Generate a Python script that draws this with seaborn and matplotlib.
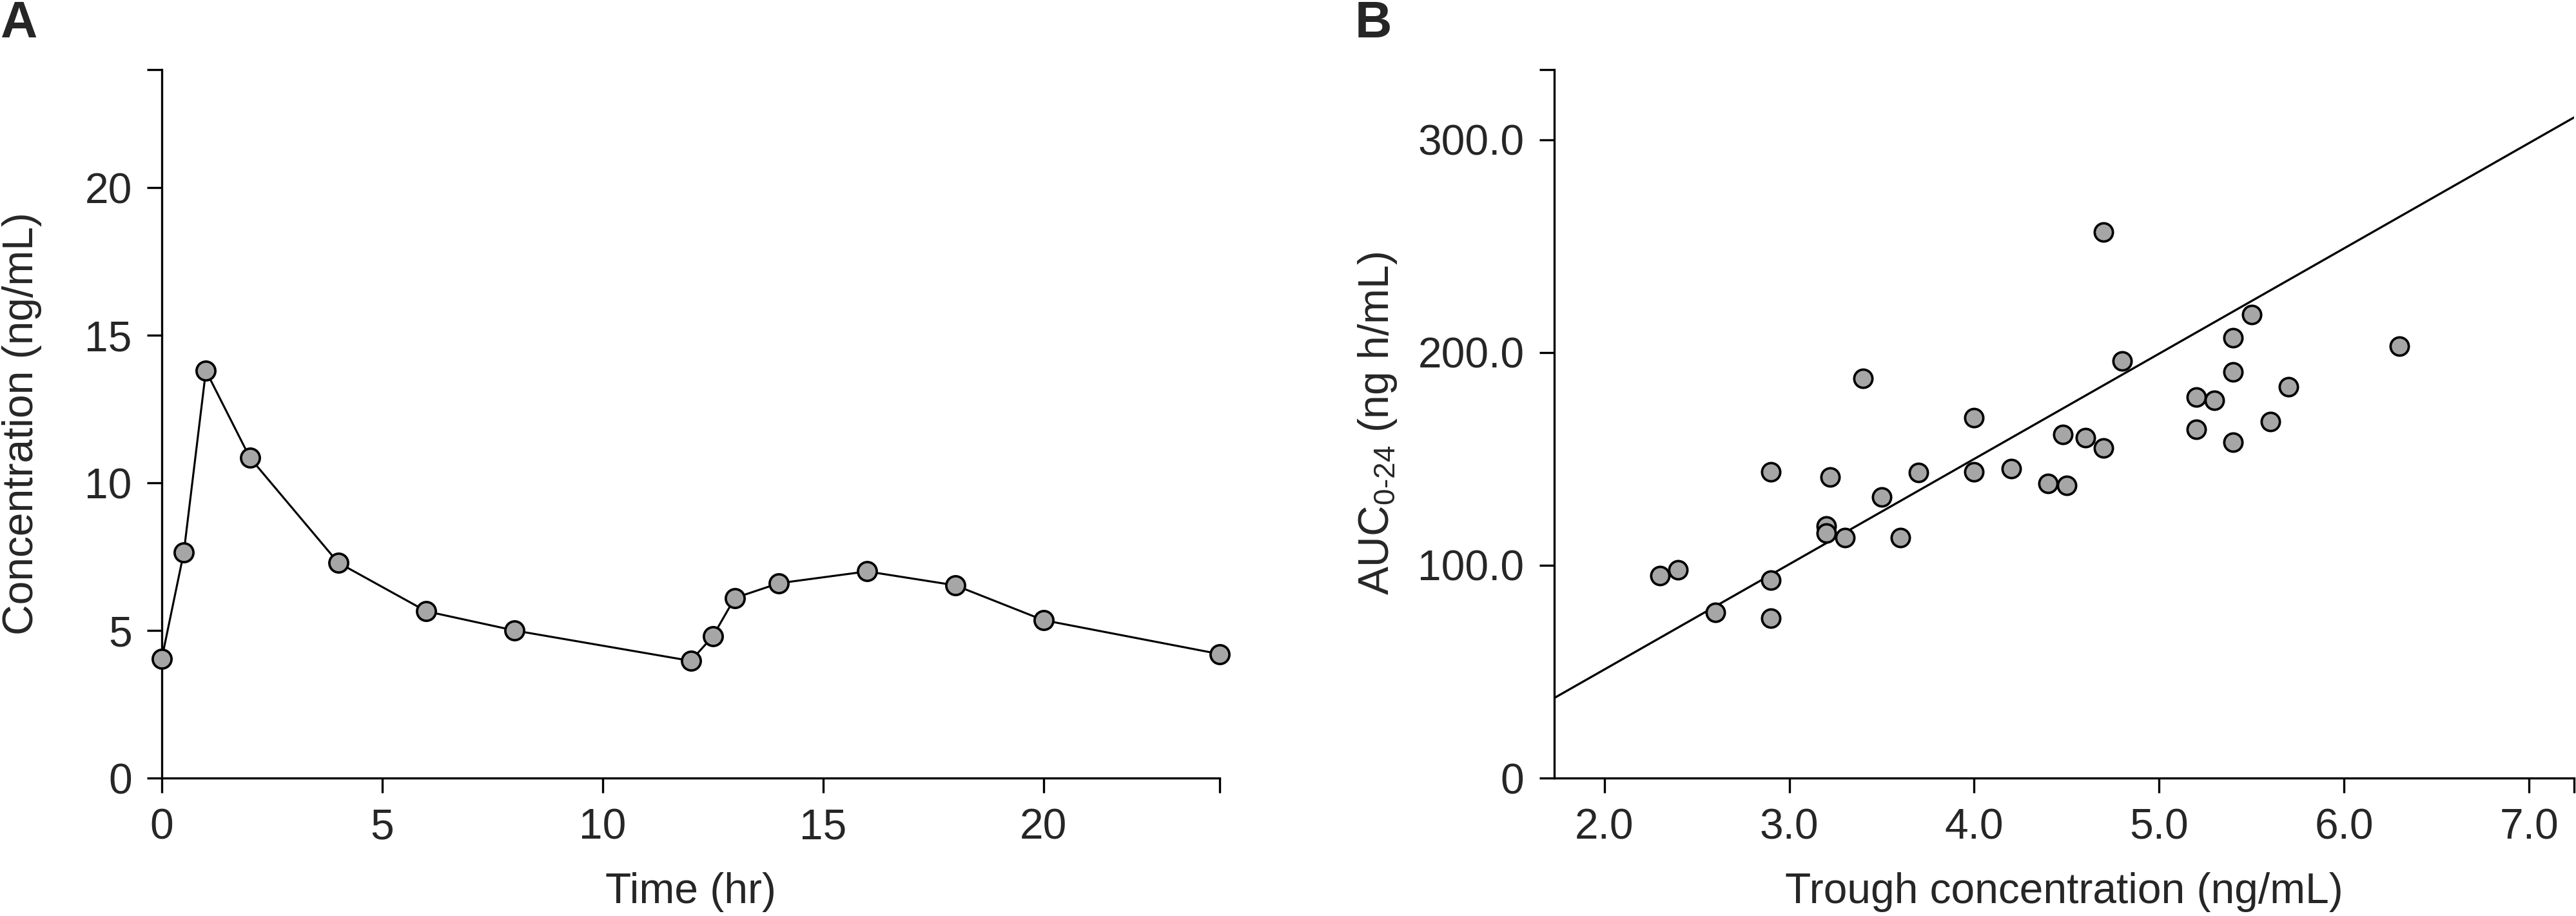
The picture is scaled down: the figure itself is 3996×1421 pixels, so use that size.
import matplotlib
matplotlib.use("Agg")
import matplotlib.pyplot as plt
import seaborn as sns
import pandas as pd

# ---- Panel A data: concentration-time profile ----
time_hr = [0, 0.5, 1, 2, 4, 6, 8, 12, 12.5, 13, 14, 16, 18, 20, 24]
conc_ng_ml = [4.05, 7.65, 13.8, 10.85, 7.3, 5.65, 5.0, 3.97, 4.8, 6.1, 6.6, 7.0, 6.53, 5.35, 4.2]
a_xticks = [0, 5, 10, 15, 20, 24]
a_xticklabels = ["0", "5", "10", "15", "20", ""]
a_yticks = [0, 5, 10, 15, 20, 24]
a_yticklabels = ["0", "5", "10", "15", "20", ""]

# ---- Panel B data: trough concentration vs AUC0-24 ----
trough = [2.3, 2.4, 2.6, 2.9, 2.9, 2.9, 3.2, 3.2, 3.3, 3.22, 3.4, 3.5, 3.6, 3.7,
          4.0, 4.0, 4.2, 4.4, 4.5, 4.48, 4.6, 4.7, 4.7, 4.8,
          5.2, 5.2, 5.3, 5.4, 5.4, 5.4, 5.5, 5.6, 5.7, 6.3]
auc = [95, 98, 78, 93, 75, 144, 118.5, 115, 113, 141.5, 188, 132, 113, 143.5,
       169.5, 144, 145.5, 138.5, 137.5, 161.5, 160, 256.5, 155, 196,
       179, 164, 177.5, 207, 191, 158, 218, 167.5, 184, 203]
fit_slope = 49.5
fit_intercept = -48.0
b_xticks = [2.0, 3.0, 4.0, 5.0, 6.0, 7.0, 7.243]
b_xticklabels = ["2.0", "3.0", "4.0", "5.0", "6.0", "7.0", ""]
b_yticks = [0, 100, 200, 300, 333]
b_yticklabels = ["0", "100.0", "200.0", "300.0", ""]

sns.set_theme(style="ticks")
plt.rcParams["font.family"] = ["Liberation Sans", "DejaVu Sans"]
plt.rcParams["mathtext.fontset"] = "custom"
plt.rcParams["mathtext.rm"] = "Liberation Sans"
plt.rcParams["mathtext.it"] = "Liberation Sans"
plt.rcParams["mathtext.default"] = "regular"

W, H = 3996, 1421
DPI = 300
fig = plt.figure(figsize=(W / DPI, H / DPI), dpi=DPI)
fig.patch.set_facecolor("white")

FS = 15.8
SPINE_LW = 0.8
TICK_LEN = 5.6
GRAY = "#a6a6a6"

axA = fig.add_axes([251 / W, 1 - 1207 / H, (1892 - 251) / W, (1207 - 108) / H])
axB = fig.add_axes([2410.7 / W, 1 - 1207 / H, (3993 - 2410.7) / W, (1207 - 108) / H])

dfA = pd.DataFrame({"time": time_hr, "conc": conc_ng_ml})
sns.lineplot(data=dfA, x="time", y="conc", ax=axA, color="black", linewidth=0.75,
             marker="o", markersize=7.0, markerfacecolor=GRAY, markeredgecolor="black",
             markeredgewidth=0.9, clip_on=False, zorder=5)
axA.set_xlim(0, 24)
axA.set_ylim(0, 24)
axA.set_xticks(a_xticks)
axA.set_xticklabels(a_xticklabels)
axA.set_yticks(a_yticks)
axA.set_yticklabels(a_yticklabels)
axA.set_xlabel("Time (hr)", fontsize=FS, labelpad=9)
axA.set_ylabel("Concentration (ng/mL)", fontsize=FS, labelpad=16)

dfB = pd.DataFrame({"trough": trough, "auc": auc})
axB.axline((0, fit_intercept), slope=fit_slope, color="black", linewidth=0.8, zorder=2)
sns.scatterplot(data=dfB, x="trough", y="auc", ax=axB, s=46, color=GRAY,
                edgecolor="black", linewidth=0.9, zorder=3)
axB.set_xlim(1.7285, 7.243)
axB.set_ylim(0, 333)
axB.set_xticks(b_xticks)
axB.set_xticklabels(b_xticklabels)
axB.set_yticks(b_yticks)
axB.set_yticklabels(b_yticklabels)
axB.set_xlabel("Trough concentration (ng/mL)", fontsize=FS, labelpad=9)
axB.set_ylabel(r"AUC$_{0\text{-}24}$ (ng h/mL)", fontsize=FS, labelpad=7)

for ax in (axA, axB):
    sns.despine(ax=ax)
    for s in ("left", "bottom"):
        ax.spines[s].set_linewidth(SPINE_LW)
        ax.spines[s].set_color("black")
    ax.tick_params(axis="both", which="major", labelsize=FS, length=TICK_LEN,
                   width=SPINE_LW, color="black", direction="out", pad=5.5)
    ax.set_facecolor("white")

fig.text(0.0, 1 - 58 / H, "A", fontsize=19.1, fontweight="bold", va="baseline", ha="left")
fig.text(2102 / W, 1 - 58 / H, "B", fontsize=19.1, fontweight="bold", va="baseline", ha="left")

fig.savefig("out.png", dpi=DPI, facecolor="white")
